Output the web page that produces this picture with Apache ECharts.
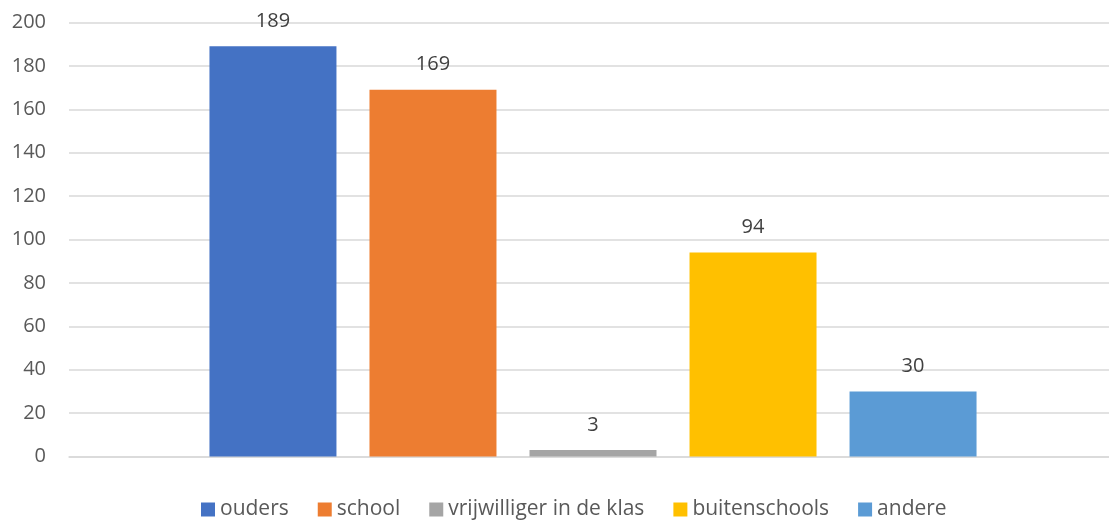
<!DOCTYPE html>
<html>
<head>
<meta charset="utf-8">
<script src="https://cdn.jsdelivr.net/npm/echarts@6/dist/echarts.min.js"></script>
<style>
  html, body { margin: 0; padding: 0; background: #fff; overflow: hidden; }
  #chart { width: 1117px; height: 529px; }
</style>
</head>
<body>
<div id="chart"></div>
<script>
var seriesNames = ['ouders', 'school', 'vrijwilliger in de klas', 'buitenschools', 'andere']
var seriesValues = [189, 169, 3, 94, 30]
var seriesColors = ['#4472c4', '#ed7d31', '#a5a5a5', '#ffc000', '#5b9bd5']
var categories = ['']
var yTicks = { min: 0, max: 200, interval: 20 }

var chart = echarts.init(document.getElementById('chart'))

var series = seriesNames.map(function(name, i) {
  return {
    name: name,
    type: 'bar',
    barWidth: 127,
    barGap: '26%',
    data: [seriesValues[i]],
    itemStyle: { color: seriesColors[i] },
    label: {
      show: true,
      position: 'top',
      distance: 15,
      color: '#404040',
      fontSize: 20,
      fontFamily: 'Open Sans'
    }
  }
})

chart.setOption({
  backgroundColor: '#fff',
  animation: false,
  textStyle: { fontFamily: 'Open Sans' },
  grid: {
    left: 69,
    right: 0,
    top: 22.5,
    bottom: 72.5
  },
  legend: {
    bottom: 4,
    left: 196,
    itemWidth: 14,
    itemHeight: 14,
    itemGap: 29,
    icon: 'rect',
    textStyle: { color: '#595959', fontSize: 21, fontFamily: 'Open Sans' },
    data: seriesNames
  },
  xAxis: {
    type: 'category',
    data: categories,
    axisLine: { lineStyle: { color: '#d9d9d9', width: 1.5 } },
    axisTick: { show: false },
    axisLabel: { show: false }
  },
  yAxis: {
    type: 'value',
    min: yTicks.min,
    max: yTicks.max,
    interval: yTicks.interval,
    axisLine: { show: false },
    axisTick: { show: false },
    axisLabel: { color: '#595959', fontSize: 20, margin: 23, fontFamily: 'Open Sans' },
    splitLine: { lineStyle: { color: '#d9d9d9', width: 1.5 } }
  },
  series: series
})
</script>
</body>
</html>
